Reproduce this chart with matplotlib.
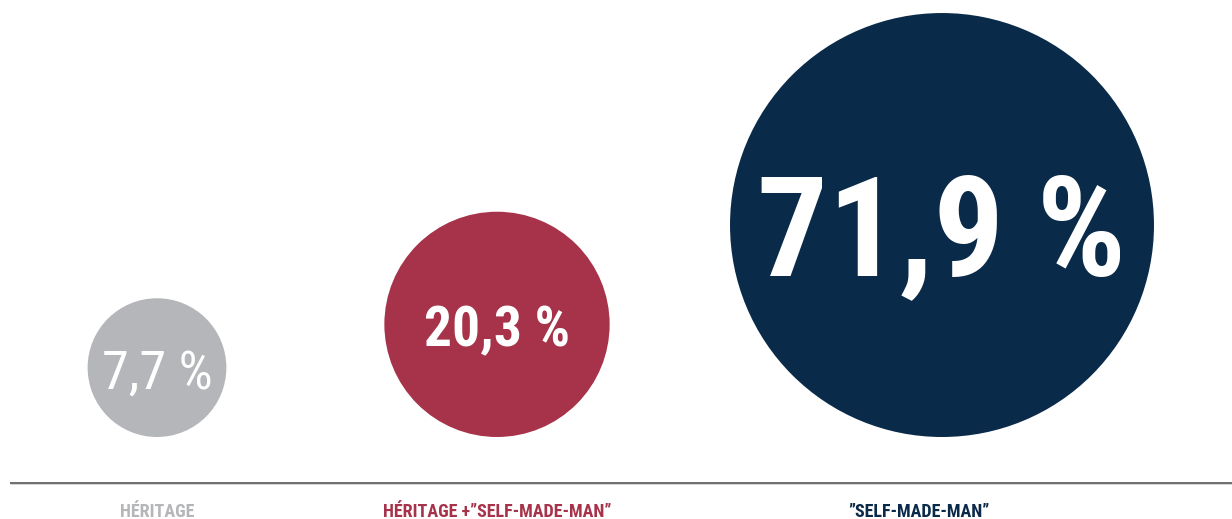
import matplotlib
matplotlib.use("Agg")
import matplotlib.pyplot as plt
from matplotlib.patches import Circle
import numpy as np

# data
values = [7.7, 20.3, 71.9]
value_labels = ["7,7 %", "20,3 %", "71,9 %"]
categories = ["HÉRITAGE", "HÉRITAGE +”SELF-MADE-MAN”", "”SELF-MADE-MAN”"]
colors = ["#b5b6b9", "#a63349", "#0a2a4a"]

# layout (pixel coords, y grows downwards)
W, H = 1232, 519
centers_x = [157, 497, 942]
label_x = [157, 497, 919]
bottom_y = 437
scale = 25.0  # radius = scale * sqrt(value)
num_sizes = [39, 40, 101]
num_weights = ["normal", "bold", "bold"]
num_dy = [21, 22, 50]  # baseline offset below circle centre
fam = ["Roboto Condensed", "DejaVu Sans"]

fig = plt.figure(figsize=(W / 100, H / 100), dpi=100)
ax = fig.add_axes([0, 0, 1, 1])
ax.set_xlim(0, W)
ax.set_ylim(H, 0)
ax.set_aspect("equal")
ax.axis("off")

for i, v in enumerate(values):
    r = scale * np.sqrt(v)
    cy = bottom_y - r
    ax.add_patch(Circle((centers_x[i], cy), r, color=colors[i], lw=0))
    ax.text(centers_x[i], cy + num_dy[i], value_labels[i], ha="center", va="baseline",
            color="white", fontsize=num_sizes[i], fontweight=num_weights[i], family=fam)
    ax.text(label_x[i], 517, categories[i], ha="center", va="baseline",
            color=colors[i], fontsize=13, fontweight="bold", family=fam)

ax.plot([10, W], [482.5, 482.5], color="#555555", lw=1.2, solid_capstyle="butt")
ax.plot([10, W], [484, 484], color="#cccccc", lw=0.6, solid_capstyle="butt")

fig.savefig("out.png", dpi=100)
